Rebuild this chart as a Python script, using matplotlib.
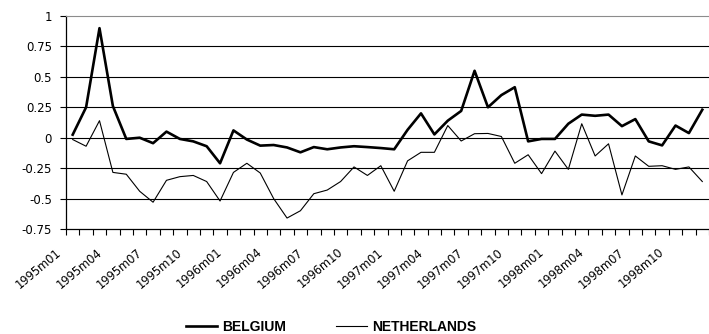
import matplotlib
matplotlib.use("Agg")
import matplotlib.pyplot as plt
import matplotlib.transforms as mtransforms
import numpy as np

# monthly series, 1995m01 .. 1998m12
months = [f"{y}m{m:02d}" for y in range(1995, 1999) for m in range(1, 13)]

belgium = [0.025, 0.25, 0.90, 0.26, -0.01, 0.0, -0.045, 0.05, -0.01, -0.03, -0.07, -0.21,
           0.06, -0.015, -0.065, -0.06, -0.08, -0.12, -0.077, -0.095, -0.08, -0.07, -0.077, -0.085,
           -0.095, 0.065, 0.20, 0.027, 0.14, 0.22, 0.55, 0.25, 0.35, 0.415, -0.03, -0.01,
           -0.01, 0.115, 0.19, 0.18, 0.19, 0.095, 0.153, -0.03, -0.063, 0.10, 0.038, 0.23]

netherlands = [-0.015, -0.07, 0.14, -0.285, -0.30, -0.44, -0.53, -0.35, -0.32, -0.31, -0.36, -0.52,
               -0.285, -0.21, -0.29, -0.50, -0.66, -0.60, -0.46, -0.43, -0.36, -0.24, -0.31, -0.23,
               -0.44, -0.19, -0.12, -0.12, 0.10, -0.027, 0.033, 0.035, 0.01, -0.21, -0.14, -0.295,
               -0.11, -0.26, 0.115, -0.15, -0.05, -0.47, -0.15, -0.235, -0.23, -0.26, -0.24, -0.36]

yticks = [-0.75, -0.5, -0.25, 0, 0.25, 0.5, 0.75, 1]
ytick_labels = ["-0.75", "-0.5", "-0.25", "0", "0.25", "0.5", "0.75", "1"]

x = np.arange(len(months))

fig = plt.figure(figsize=(7.09, 3.34), dpi=100)
ax = fig.add_axes([66 / 709, 1 - 229 / 334, 1 - 66 / 709, (229 - 16) / 334])

for yv in yticks[1:-1]:
    ax.axhline(yv, color="black", lw=0.8, zorder=1)

ax.plot(x, belgium, color="black", lw=1.9, label="BELGIUM", zorder=3)
ax.plot(x, netherlands, color="black", lw=0.8, label="NETHERLANDS", zorder=3)

ax.set_xlim(-0.5, len(months) - 0.5)
ax.set_ylim(-0.75, 1)

ax.set_yticks(yticks)
ax.set_yticklabels(ytick_labels, fontfamily="DejaVu Sans", fontsize=8.5)
ax.tick_params(axis="y", direction="out", length=4, width=0.8, pad=6)

# boundary tick marks between months, labels every quarter
ax.set_xticks(np.arange(-0.5, len(months), 1))
ax.set_xticklabels([])
ax.tick_params(axis="x", which="major", direction="out", length=4, width=0.8)
ax.set_xticks(x[::3], minor=True)
ax.set_xticklabels(months[::3], minor=True, rotation=40, ha="right", va="top",
                   rotation_mode="anchor", fontfamily="DejaVu Sans", fontsize=8.3)
ax.tick_params(axis="x", which="minor", length=0, pad=12)
shift = mtransforms.ScaledTranslation(-17 / 100, 0, fig.dpi_scale_trans)
for lab in ax.get_xticklabels(minor=True):
    lab.set_transform(lab.get_transform() + shift)

ax.spines["right"].set_visible(False)
ax.spines["top"].set_color("#8c8c8c")
ax.spines["left"].set_linewidth(0.9)
ax.spines["bottom"].set_linewidth(0.9)

fig.legend(loc="center", bbox_to_anchor=(0.467, 0.022), ncol=2, frameon=False,
           prop={"family": "Liberation Sans", "weight": "bold", "size": 10},
           handlelength=2.2, handletextpad=0.4, columnspacing=3.6, borderpad=0)

fig.savefig("out.png", dpi=100)
